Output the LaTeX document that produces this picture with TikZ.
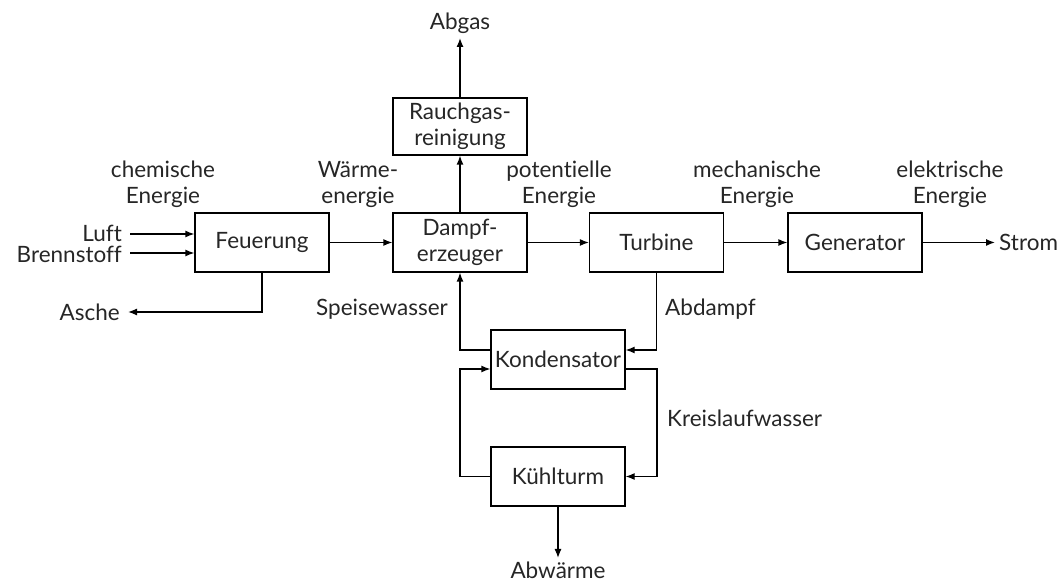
\documentclass[tikz,border=0pt]{standalone}
\usepackage{fontspec}
\setmainfont[Ligatures=NoCommon]{Lato}
\usetikzlibrary{arrows.meta}
\begin{document}
\begin{tikzpicture}[x=1pt,y=1pt,
  every node/.style={font=\fontsize{22.5}{26}\selectfont, text=black!85},
  blk/.style={draw, line width=1.3pt, minimum width=134pt, minimum height=59pt, inner sep=0pt, align=center},
  lbl/.style={align=center, inner sep=0pt},
  flow/.style={line width=1.3pt, -{Latex[length=9pt,width=7pt]}}]
\useasboundingbox (0,0) rectangle (1063,583);
% blocks
\node[blk] (feu) at (262,340.5) {Feuerung};
\node[blk] (dampf) at (460,340.5) {Dampf-\\erzeuger};
\node[blk, minimum height=57pt] (rauch) at (460,456.5) {Rauchgas-\\reinigung};
\node[blk] (turb) at (656.5,340.5) {Turbine};
\node[blk] (gen) at (855,340.5) {Generator};
\node[blk] (kond) at (558,223.5) {Kondensator};
\node[blk] (kuehl) at (558,106.5) {Kühlturm};
% free-end labels
\node[lbl, anchor=east] (luft) at (122,350) {Luft};
\node[lbl, anchor=east] (brenn) at (122,329) {Brennstoff};
\node[lbl, anchor=east] (asche) at (120,271) {Asche};
\node[lbl] (abgas) at (460,560) {Abgas};
\node[lbl, anchor=west] (strom) at (999,340.5) {Strom};
\node[lbl, anchor=north] (abw) at (558,21) {Abwärme};
% energy labels
\node[lbl] (chem) at (163,399) {chemische\\Energie};
\node[lbl] (waerme) at (358,399) {Wärme-\\energie};
\node[lbl] (pot) at (559,399) {potentielle\\Energie};
\node[lbl] (mech) at (757,399) {mechanische\\Energie};
\node[lbl] (elek) at (950,399) {elektrische\\Energie};
\node[lbl, anchor=east] (speis) at (448,274) {Speisewasser};
\node[lbl, anchor=west] (abd) at (665,274) {Abdampf};
\node[lbl, anchor=west] (kreis) at (667,165) {Kreislaufwasser};
% coordinates
\coordinate (luftS) at (130,349);
\coordinate (brennS) at (130,330);
\coordinate (ascheE) at (128,271);
\coordinate (abgasE) at (460,545);
\coordinate (stromE) at (995,340.5);
\coordinate (abwE) at (558,25);
% connectors
\draw[flow] (luftS) -- (luftS -| feu.west);
\draw[flow] (brennS) -- (brennS -| feu.west);
\draw[flow] (feu.south) |- (ascheE);
\draw[flow] (feu.east) -- (dampf.west);
\draw[flow] (dampf.north) -- (rauch.south);
\draw[flow] (rauch.north) -- (abgasE);
\draw[flow] (dampf.east) -- (turb.west);
\draw[flow] (turb.east) -- (gen.west);
\draw[flow] (gen.east) -- (stromE);
\draw[flow] ([yshift=9.5pt]kond.west) -| (dampf.south);
\draw[flow] (turb.south) |- ([yshift=9.5pt]kond.east);
\draw[flow] ([yshift=-9.5pt]kond.east) -| (657,106.5) -- (kuehl.east);
\draw[flow] (kuehl.west) -| (460,214) -- ([yshift=-9.5pt]kond.west);
\draw[flow] (kuehl.south) -- (abwE);
\end{tikzpicture}
\end{document}
